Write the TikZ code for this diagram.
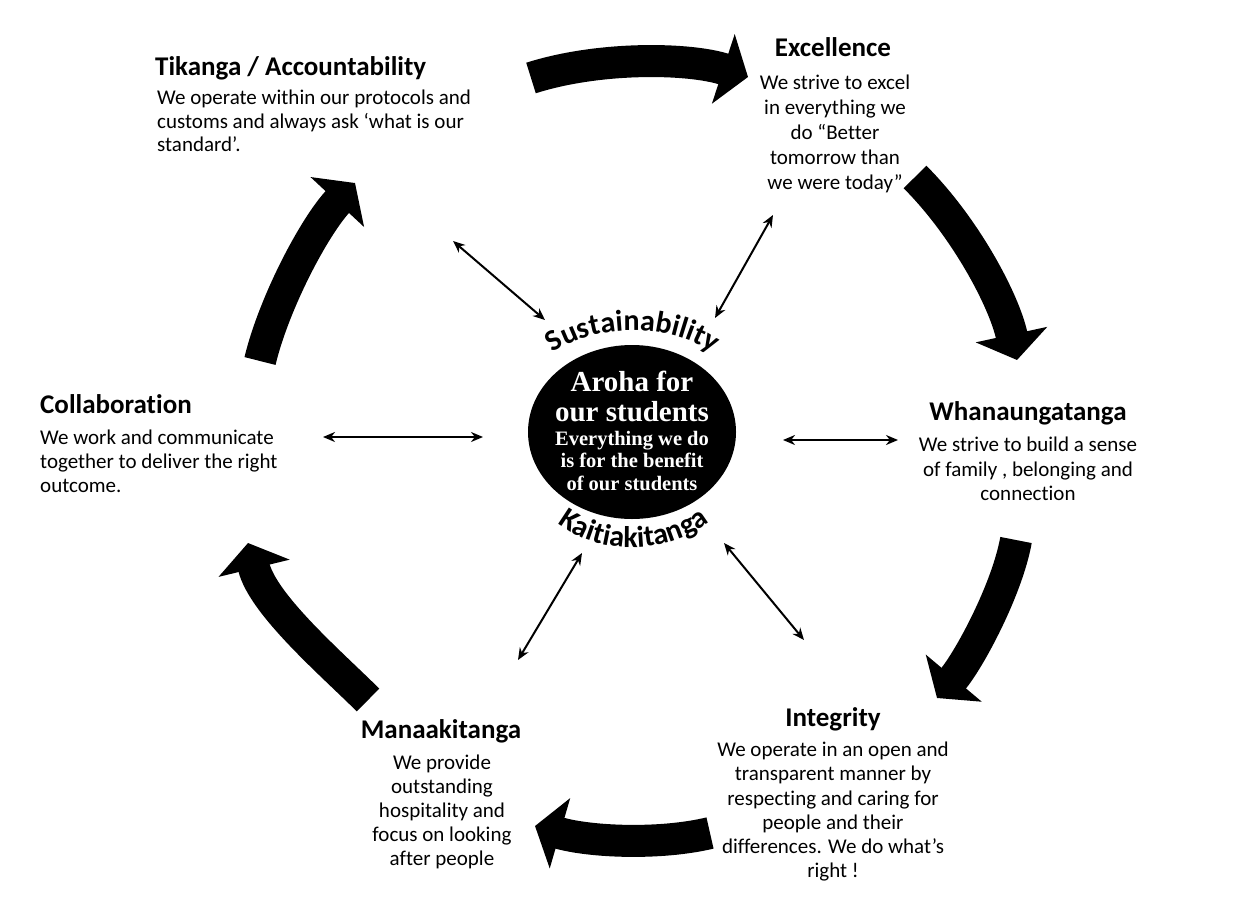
\documentclass[tikz,border=0pt]{standalone}
\usepackage{fontspec}
\setmainfont{Carlito}[Ligatures={TeX,NoCommon}]
\newfontfamily\serifface{Liberation Serif}
\usetikzlibrary{arrows.meta,shapes.geometric,decorations.text}
\newcommand{\arcfont}{\fontsize{30}{30}\selectfont\bfseries}
\begin{document}
\begin{tikzpicture}[x=1pt,y=-1pt,
  titletext/.style={font=\fontsize{27}{32}\selectfont\bfseries, inner sep=0pt},
  bodytext/.style={font=\fontsize{21}{#1}\selectfont, inner sep=0pt},
  bigarrow/.style={line width=32pt, -{Triangle[length=26pt,width=72pt]}},
  link/.style={line width=2pt, {Stealth[length=12pt,width=10pt]}-{Stealth[length=12pt,width=10pt]}},
  centertext/.style={text=white, align=center, inner sep=0pt}
]
\fill[white] (0,0) rectangle (1238,918);
\useasboundingbox (0,0) rectangle (1238,918);

% value blocks
\node[titletext, anchor=base west] (tikT) at (155,75) {Tikanga / Accountability};
\node[bodytext=23.5, anchor=north west, align=left] (tikB) at (157,90) {We operate within our protocols and\\customs and always ask ‘what is our\\standard’.};

\node[titletext, anchor=base] (excT) at (833,56) {Excellence};
\node[bodytext=25, anchor=north, align=center] (excB) at (835,75) {We strive to excel\\in everything we\\do “Better\\tomorrow than\\we were today”};

\node[titletext, anchor=base] (whaT) at (1028,420) {Whanaungatanga};
\node[bodytext=24.5, anchor=north, align=center] (whaB) at (1028,437) {We strive to build a sense\\of family , belonging and\\connection};

\node[titletext, anchor=base] (intT) at (833,726) {Integrity};
\node[bodytext=24.2, anchor=north, align=center] (intB) at (833,742) {We operate in an open and\\transparent manner by\\respecting and caring for\\people and their\\differences. We do what's\\right !};

\node[titletext, anchor=base] (manT) at (441,738) {Manaakitanga};
\node[bodytext=24, anchor=north, align=center] (manB) at (442,755) {We provide\\outstanding\\hospitality and\\focus on looking\\after people};

\node[titletext, anchor=base west] (colT) at (40,413) {Collaboration};
\node[bodytext=24, anchor=north west, align=left] (colB) at (40,430) {We work and communicate\\together to deliver the right\\outcome.};

% centre
\node[ellipse, fill=black, minimum width=208pt, minimum height=174pt, inner sep=0pt] (core) at (632,432) {};
\node[centertext, font=\serifface\bfseries\fontsize{29}{30}\selectfont, anchor=north] (aroha) at (632,371) {Aroha for\\our students};
\node[centertext, font=\serifface\bfseries\fontsize{20.5}{22.5}\selectfont, anchor=north] (every) at (632,431) {Everything we do\\is for the benefit\\of our students};

\coordinate (s0) at (548,357);
\coordinate (s1) at (590,322);
\coordinate (s2) at (675,322);
\coordinate (s3) at (718,357);
\path[decorate, decoration={text along path, text align=center, text={|\arcfont|Sustainability}}] (s0) .. controls (s1) and (s2) .. (s3);

\coordinate (k0) at (553,520);
\coordinate (k1) at (595,557);
\coordinate (k2) at (670,557);
\coordinate (k3) at (714,518);
\path[decorate, decoration={text along path, text align=center, text={|\arcfont|Kaitiakitanga}}] (k0) .. controls (k1) and (k2) .. (k3);

% links to centre
\coordinate (l1a) at (453,241); \coordinate (l1b) at (545,320);
\coordinate (l2a) at (773,215); \coordinate (l2b) at (715,318);
\coordinate (l3a) at (783,440); \coordinate (l3b) at (898,440);
\coordinate (l4a) at (323,437); \coordinate (l4b) at (483,437);
\coordinate (l5a) at (582,553); \coordinate (l5b) at (518,660);
\coordinate (l6a) at (724,543); \coordinate (l6b) at (804,640);
\draw[link] (l1a) -- (l1b);
\draw[link] (l2a) -- (l2b);
\draw[link] (l3a) -- (l3b);
\draw[link] (l4a) -- (l4b);
\draw[link] (l5a) -- (l5b);
\draw[link] (l6a) -- (l6b);

% cycle arrows
\coordinate (a0) at (531,78);  \coordinate (a1) at (748,77);
\coordinate (b0) at (915,177); \coordinate (b1) at (1017,360);
\coordinate (c0) at (1016,540);\coordinate (c1) at (937,698);
\coordinate (d0) at (710,833); \coordinate (d1) at (535,826);
\coordinate (e0) at (368,700); \coordinate (e1) at (248,543);
\coordinate (f0) at (260,361); \coordinate (f1) at (355,183);
\draw[bigarrow] (a0) .. controls (600,56) and (690,58) .. (a1);
\draw[bigarrow] (b0) .. controls (965,227) and (1004,300) .. (b1);
\draw[bigarrow] (c0) .. controls (1007,590) and (969,660) .. (c1);
\draw[bigarrow] (d0) .. controls (660,845) and (590,842) .. (d1);
\draw[bigarrow] (e0) .. controls (333,665) and (263,605) .. (e1);
\draw[bigarrow] (f0) .. controls (274,303) and (314,227) .. (f1);
\end{tikzpicture}
\end{document}
